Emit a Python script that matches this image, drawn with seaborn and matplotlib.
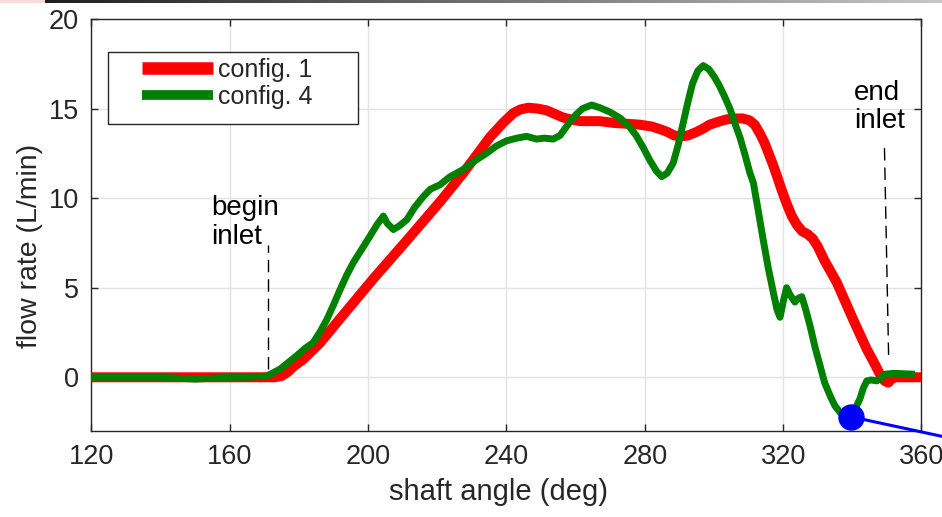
import numpy as np
import pandas as pd
import matplotlib
matplotlib.use("Agg")
import matplotlib.pyplot as plt
from matplotlib.patches import Rectangle
import seaborn as sns

# ---- data -------------------------------------------------------------
angle_c1 = [120, 140, 160, 170, 173, 175, 176.8, 178.4, 181.2, 186, 192,
            201.5, 211, 220.8, 227.5, 235.2, 239, 242, 244, 246.3, 249,
            251.6, 254, 256.4, 258.5, 261.3, 266.9, 271, 275, 278.6, 282,
            284.4, 286.5, 288.5, 290.5, 292.5, 295, 297, 298.7, 301, 303.7,
            306, 308.3, 310.2, 311.8, 313.3, 314.6, 315.8, 317, 318.1, 319.5,
            321, 322.5, 324, 325.5, 327, 328.5, 330, 332, 335.5, 340.3, 344.2,
            346.2, 348, 349.3, 350.4, 351.3, 352.2, 360]
flow_c1 = [0, 0, 0, 0, 0.0, 0.08, 0.3, 0.6, 1.0, 1.9, 3.3,
           5.5, 7.6, 9.8, 11.4, 13.4, 14.2, 14.75, 14.95, 15.05, 15.0,
           14.9, 14.7, 14.5, 14.4, 14.3, 14.3, 14.2, 14.15, 14.1, 14.0,
           13.85, 13.7, 13.5, 13.45, 13.5, 13.7, 13.9, 14.1, 14.25, 14.4,
           14.45, 14.45, 14.35, 14.1, 13.6, 13.1, 12.5, 11.9, 11.3, 10.5,
           9.7, 9.0, 8.5, 8.15, 8.0, 7.75, 7.3, 6.5, 5.3, 3.2, 1.56,
           0.85, 0.17, -0.2, -0.3, -0.1, 0, 0]

angle_c4 = [120, 130, 140, 150, 160, 165, 170.7, 174.5, 179.3, 182, 184.1,
            186, 188, 190, 191.9, 193.8, 195.7, 198, 200.6, 202.5, 204.4,
            205.5, 207.3, 209, 211.2, 213.5, 216, 218, 220.8, 223.7, 227.5,
            231, 234.2, 237, 240, 243, 245.8, 248.7, 251, 253.5, 255.5, 257,
            258.5, 260.3, 262, 264.6, 267, 270, 273, 275.7, 277.5, 279.6,
            281.5, 283.4, 284.9, 286.5, 288.2, 289.7, 291.1, 292.5, 293.8,
            295.3, 296.9, 298.5, 300, 301.5, 303, 304.6, 306, 307.5, 309,
            310.4, 311.4, 312.8, 314.3, 315.7, 317.2, 318.2, 319.1, 320,
            321, 322, 323.4, 324.3, 325.4, 326.5, 327.8, 329.2, 330.7, 332,
            333.6, 335, 336.5, 338, 339.8, 341, 342.2, 343.2, 344.2, 345.5,
            347.1, 348.3, 349.5, 351.9, 358.1]
flow_c4 = [0, 0, 0, -0.1, 0, 0, 0.07, 0.45, 1.2, 1.65, 1.93,
           2.5, 3.2, 4.05, 4.9, 5.7, 6.4, 7.1, 7.9, 8.5, 9.0,
           8.6, 8.25, 8.45, 8.8, 9.5, 10.1, 10.5, 10.75, 11.2, 11.6,
           12.1, 12.5, 12.9, 13.2, 13.35, 13.45, 13.3, 13.35, 13.3, 13.5, 13.9,
           14.3, 14.7, 15.0, 15.2, 15.05, 14.8, 14.45, 13.95, 13.5, 12.8,
           12.1, 11.5, 11.2, 11.4, 11.96, 13.0, 14.2, 15.4, 16.4,
           17.1, 17.4, 17.2, 16.8, 16.3, 15.7, 15.0, 14.2, 13.4, 12.4,
           11.4, 10.85, 9.3, 7.6, 6.1, 4.7, 3.8, 3.35, 4.2,
           5.0, 4.6, 4.2, 4.4, 4.5, 3.8, 2.86, 1.7, 0.63, -0.3,
           -1.04, -1.6, -1.97, -2.15, -2.15, -1.7, -1.2, -0.6, -0.2, -0.15,
           -0.2, -0.05, 0.17, 0.22, 0.17]

series_labels = ["config. 1", "config. 4"]
series_colors = ["#ff0000", "#008000"]

inlet_begin = 171
inlet_end = (349.3, 350.5)

marker_point = (339.5, -2.2)
marker_tail = (366.0, -3.3)

x_ticks = [120, 160, 200, 240, 280, 320, 360]
y_ticks = [0, 5, 10, 15, 20]

# ---- style -----------------------------------------------------------
sns.set_theme(style="whitegrid")
plt.rcParams["font.family"] = ["Liberation Sans", "DejaVu Sans"]
ink = "#262626"

fig = plt.figure(figsize=(9.42, 5.17), dpi=100)
ax = fig.add_axes([0.0971, 0.1663, 0.8811, 0.7969])

df = pd.concat([
    pd.DataFrame({"angle": angle_c1, "flow": flow_c1, "config": series_labels[0]}),
    pd.DataFrame({"angle": angle_c4, "flow": flow_c4, "config": series_labels[1]}),
])

widths = [7.2, 5.0]
for lab, col, lw in zip(series_labels, series_colors, widths):
    sns.lineplot(data=df[df["config"] == lab], x="angle", y="flow",
                 color=col, linewidth=lw, sort=False, estimator=None,
                 label=lab, ax=ax, solid_joinstyle="round",
                 solid_capstyle="butt", zorder=3)

# inlet markers
ax.plot([inlet_begin, inlet_begin], [0.45, 7.4], color="black", lw=1.0,
        linestyle=(0, (9, 5)), zorder=2)
ax.plot(list(inlet_end), [12.8, 1.2], color="black", lw=1.0,
        linestyle=(0, (9, 5)), zorder=2)
ax.text(154.6, 10.2, "begin\ninlet", fontsize=20, color="black",
        ha="left", va="top", linespacing=1.15)
ax.text(340.6, 16.6, "end\ninlet", fontsize=20, color="black",
        ha="left", va="top", linespacing=1.1)

# highlighted point with its leader line
ax.plot([marker_point[0], marker_tail[0]], [marker_point[1], marker_tail[1]],
        color="#0000ff", lw=2.2, clip_on=False, zorder=6)
ax.plot([marker_point[0]], [marker_point[1]], "o", color="#0000ff",
        markersize=18, clip_on=False, zorder=7)

# axes
ax.set_xlim(120, 360)
ax.set_ylim(-3, 20)
ax.set_xticks(x_ticks)
ax.set_yticks(y_ticks)
ax.grid(True, color="#e3e3e3", linewidth=1.0)
for s in ax.spines.values():
    s.set_visible(True)
    s.set_color(ink)
    s.set_linewidth(1.0)
ax.tick_params(axis="both", which="both", direction="in", length=5,
               width=1.0, color=ink, labelsize=19.5, labelcolor=ink,
               top=True, right=True, bottom=True, left=True, pad=9)
ax.set_xlabel("shaft angle (deg)", fontsize=21, color=ink)
ax.set_ylabel("flow rate (L/min)", fontsize=20.5, color=ink)
ax.xaxis.set_label_coords(0.49, -0.115)
ax.yaxis.set_label_coords(-0.058, 0.45)

# legend: plain box plus frameless entries
ax.add_patch(Rectangle((0.0195, 0.7451), 0.3012, 0.1755, transform=ax.transAxes,
                       facecolor="white", edgecolor=ink, linewidth=1.0, zorder=8))
leg = ax.legend(loc="upper left", bbox_to_anchor=(0.0605, 0.9066),
                frameon=False, fontsize=18, handlelength=2.84,
                handletextpad=0.2, borderpad=0, borderaxespad=0,
                labelspacing=0.12)
leg.set_zorder(9)
for h, lw in zip(leg.get_lines(), [9.0, 7.0]):
    h.set_linewidth(lw)

# thin banner along the top edge
band = fig.add_axes([0, 1 - 3.5 / 517, 1, 3.5 / 517])
n = 942
rgb = np.zeros((1, n, 3))
pink = np.array([0.98, 0.86, 0.86])
dark = np.array([0.12, 0.12, 0.12])
light = np.array([0.78, 0.78, 0.78])
for i in range(n):
    if i < 45:
        rgb[0, i] = pink
    else:
        t = (i - 45) / (n - 45)
        rgb[0, i] = dark * (1 - t) + light * t
band.imshow(rgb, aspect="auto", interpolation="nearest")
band.set_axis_off()

fig.savefig("out.png", dpi=100)
